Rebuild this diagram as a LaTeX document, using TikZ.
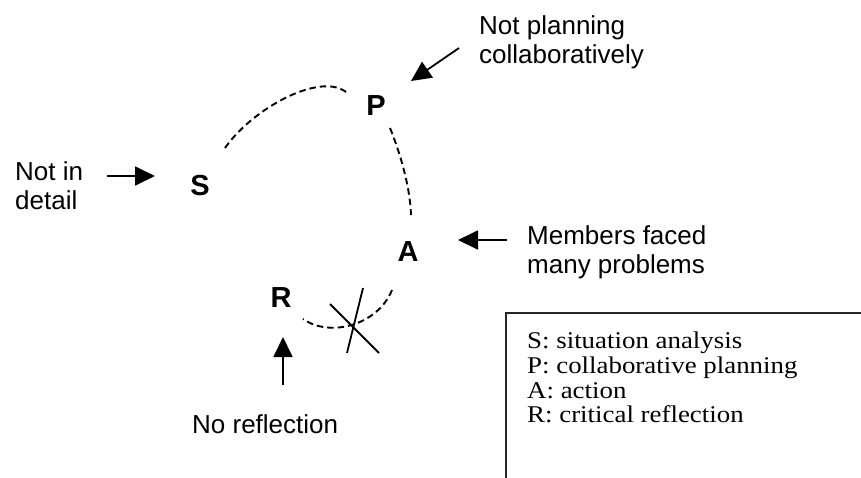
\documentclass[tikz,border=0pt]{standalone}
\usepackage{fontspec}
\setmainfont{Liberation Serif}
\setsansfont{Liberation Sans}
\newfontfamily\legendfont[FakeStretch=1.12]{Liberation Serif}
\usetikzlibrary{arrows.meta}
\begin{document}
\begin{tikzpicture}[x=1pt,y=-1pt,
  stage/.style={font=\sffamily\bfseries\fontsize{29}{32}\selectfont, inner sep=0pt},
  remark/.style={font=\sffamily\fontsize{26}{28.5}\selectfont, align=left, anchor=base west, inner sep=0pt},
  pointer/.style={line width=1.8pt, -{Triangle[length=20pt,width=19pt]}},
  cycle/.style={line width=1.9pt, dash pattern=on 6.5pt off 4pt},
  cross/.style={line width=1.8pt},
  legendtext/.style={font=\legendfont\fontsize{24}{24.6}\selectfont, align=left, anchor=base west, inner sep=0pt}]
\useasboundingbox (0,0) rectangle (861,477);
\clip (0,0) rectangle (861,477);

% stage letters of the cycle
\node[stage] (S) at (200,186) {S};
\node[stage] (P) at (376,106) {P};
\node[stage] (A) at (408,252) {A};
\node[stage] (R) at (281,298) {R};

% dashed arcs between stages
\coordinate (sp1) at (225,148);
\coordinate (sp2) at (346,92);
\coordinate (pa1) at (390,128);
\coordinate (pa2) at (411,215);
\coordinate (ar1) at (392,290);
\coordinate (ar2) at (303,319);
\draw[cycle] (sp1) .. controls (253,108) and (320,72) .. (sp2);
\draw[cycle] (pa1) .. controls (399,150) and (410,185) .. (pa2);
\draw[cycle] (ar1) .. controls (378,325) and (330,338) .. (ar2);

% cross over the broken link
\coordinate (x1a) at (363,288);
\coordinate (x1b) at (347,353);
\coordinate (x2a) at (330,304);
\coordinate (x2b) at (379,353);
\draw[cross] (x1a) -- (x1b);
\draw[cross] (x2a) -- (x2b);

% remarks (anchored on the baseline of their last line) and their pointers
\node[remark] (noteS) at (15,209) {Not in\\detail};
\node[remark] (noteP) at (479,63) {Not planning\\collaboratively};
\node[remark] (noteA) at (527,273) {Members faced\\many problems};
\node[remark] (noteR) at (192,433) {No reflection};

\coordinate (tS0) at (107,176);
\coordinate (tS1) at (155,176);
\coordinate (tP0) at (459,48);
\coordinate (tP1) at (411,81);
\coordinate (tA0) at (507,240);
\coordinate (tA1) at (458,240);
\coordinate (tR0) at (283,385);
\coordinate (tR1) at (283,337);
\draw[pointer] (tS0) -- (tS1);
\draw[pointer] (tP0) -- (tP1);
\draw[pointer] (tA0) -- (tA1);
\draw[pointer] (tR0) -- (tR1);

% legend box, open past the right and lower edges
\draw[line width=2.2pt, draw=black!85] (506,313) rectangle (880,500);
\node[legendtext] (legend) at (527,422.7) {S: situation analysis\\P: collaborative planning\\A: action\\R: critical reflection};
\end{tikzpicture}
\end{document}
